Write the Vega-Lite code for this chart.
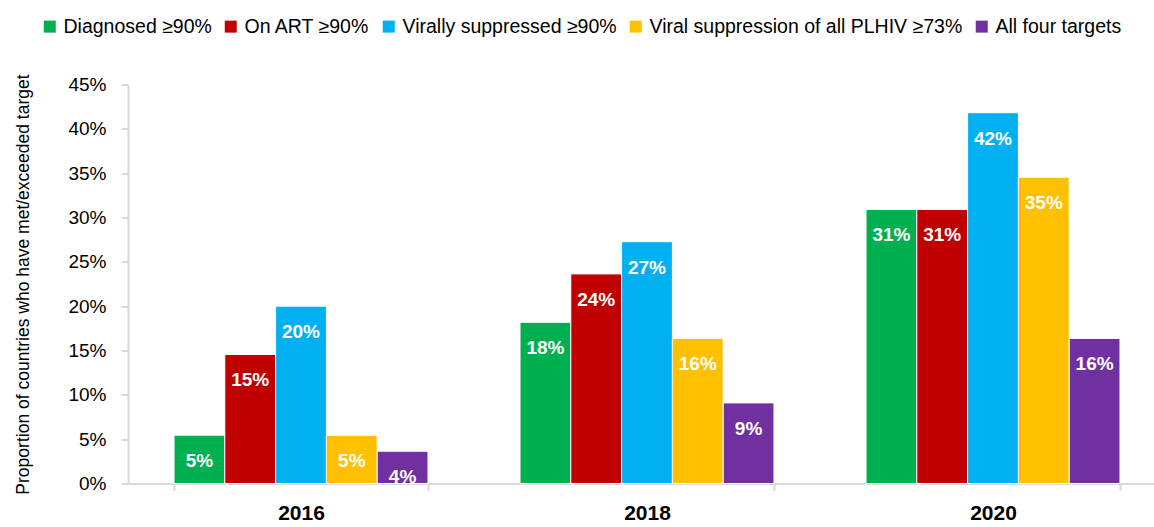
{
  "$schema": "https://vega.github.io/schema/vega-lite/v6.json",
  "autosize": {"type": "none"},
  "padding": {"left": 128, "top": 84.5, "right": 0, "bottom": 43.5},
  "width": 1026,
  "height": 399,
  "background": "white",
  "config": {
    "view": {"stroke": null},
    "font": "Liberation Sans"
  },
  "data": {
    "values": [
      {"year": "2016", "target": "Diagnosed ≥90%", "value": 0.0545},
      {"year": "2016", "target": "On ART ≥90%", "value": 0.1455},
      {"year": "2016", "target": "Virally suppressed ≥90%", "value": 0.2},
      {"year": "2016", "target": "Viral suppression of all PLHIV ≥73%", "value": 0.0545},
      {"year": "2016", "target": "All four targets", "value": 0.0364},
      {"year": "2018", "target": "Diagnosed ≥90%", "value": 0.1818},
      {"year": "2018", "target": "On ART ≥90%", "value": 0.2364},
      {"year": "2018", "target": "Virally suppressed ≥90%", "value": 0.2727},
      {"year": "2018", "target": "Viral suppression of all PLHIV ≥73%", "value": 0.1636},
      {"year": "2018", "target": "All four targets", "value": 0.0909},
      {"year": "2020", "target": "Diagnosed ≥90%", "value": 0.3091},
      {"year": "2020", "target": "On ART ≥90%", "value": 0.3091},
      {"year": "2020", "target": "Virally suppressed ≥90%", "value": 0.4182},
      {"year": "2020", "target": "Viral suppression of all PLHIV ≥73%", "value": 0.3455},
      {"year": "2020", "target": "All four targets", "value": 0.1636}
    ]
  },
  "encoding": {
    "x": {
      "field": "year",
      "type": "nominal",
      "scale": {"range": [0, 1038], "paddingInner": 0.266, "paddingOuter": 0.133},
      "axis": {
        "title": null,
        "labelAngle": 0,
        "labelFont": "Liberation Sans",
        "labelFontSize": 21,
        "labelFontWeight": "bold",
        "labelColor": "#000000",
        "labelPadding": 12,
        "tickBand": "extent",
        "tickSize": 7,
        "tickWidth": 2,
        "tickColor": "#d9d9d9",
        "domainColor": "#d9d9d9",
        "domainWidth": 2
      }
    },
    "xOffset": {
      "field": "target",
      "type": "nominal",
      "scale": {
        "domain": ["Diagnosed ≥90%", "On ART ≥90%", "Virally suppressed ≥90%", "Viral suppression of all PLHIV ≥73%", "All four targets"],
        "paddingInner": 0,
        "paddingOuter": 0
      }
    },
    "y": {
      "field": "value",
      "type": "quantitative",
      "scale": {"domain": [0, 0.45], "nice": false},
      "axis": {
        "title": "Proportion of countries who have met/exceeded target",
        "titleFont": "Liberation Sans",
        "titleFontSize": 17.5,
        "titleFontWeight": "normal",
        "titleColor": "#000000",
        "titlePadding": 35,
        "values": [0, 0.05, 0.1, 0.15, 0.2, 0.25, 0.3, 0.35, 0.4, 0.45],
        "format": ".0%",
        "labelFont": "Liberation Sans",
        "labelFontSize": 19,
        "labelColor": "#000000",
        "labelPadding": 15,
        "grid": false,
        "tickSize": 7,
        "tickWidth": 2,
        "tickColor": "#d9d9d9",
        "domainColor": "#d9d9d9",
        "domainWidth": 2
      }
    }
  },
  "layer": [
    {
      "mark": {"type": "bar", "stroke": "white", "strokeWidth": 1},
      "encoding": {
        "color": {
          "field": "target",
          "type": "nominal",
          "scale": {
            "domain": ["Diagnosed ≥90%", "On ART ≥90%", "Virally suppressed ≥90%", "Viral suppression of all PLHIV ≥73%", "All four targets"],
            "range": ["#00B050", "#C00000", "#00B0F0", "#FFC000", "#7030A0"]
          },
          "legend": {
            "title": null,
            "orient": "none",
            "legendX": -88,
            "legendY": -68,
            "direction": "horizontal",
            "padding": 0,
            "symbolType": "square",
            "symbolSize": 144,
            "symbolStrokeWidth": 0,
            "symbolOpacity": 1,
            "labelFont": "Liberation Sans",
            "labelFontSize": 19.5,
            "labelColor": "#000000",
            "labelLimit": 500,
            "labelOffset": 4,
            "columnPadding": 9
          }
        }
      }
    },
    {
      "mark": {
        "type": "text",
        "color": "white",
        "font": "Liberation Sans",
        "fontSize": 19,
        "fontWeight": "bold",
        "baseline": "middle",
        "align": "center"
      },
      "encoding": {
        "text": {"field": "value", "type": "quantitative", "format": ".0%"},
        "yOffset": {
          "condition": [
            {"test": "datum.value < 0.05", "value": 17},
            {"test": "datum.value < 0.06", "value": 23}
          ],
          "value": 26
        }
      }
    }
  ]
}
